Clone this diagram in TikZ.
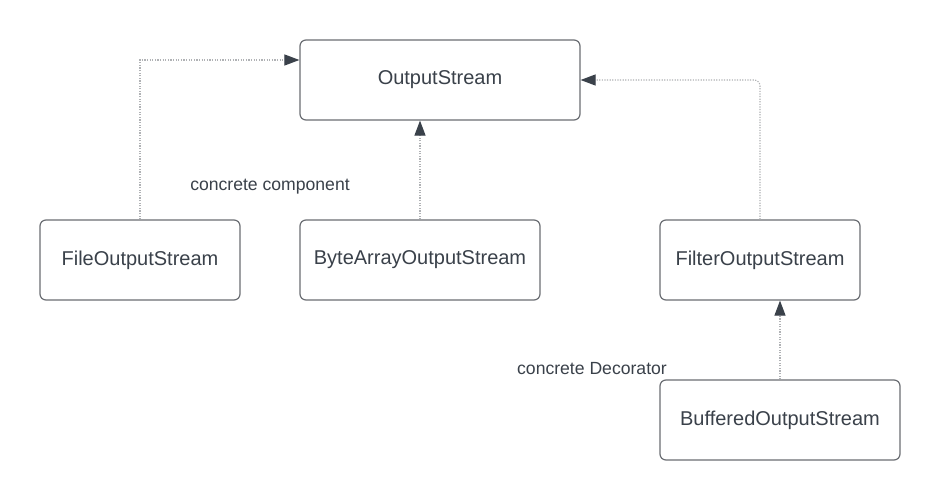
\documentclass[tikz,border=0pt]{standalone}
\usepackage{fontspec}
\setmainfont{Liberation Sans}
\usetikzlibrary{arrows.meta}
\definecolor{inkdark}{HTML}{3A414A}
\definecolor{boxline}{HTML}{6B6E73}
\definecolor{dotline}{HTML}{B0B2B5}
\tikzset{>={Triangle[width=11pt,length=15pt,color=inkdark]}}

\begin{document}
\begin{tikzpicture}[x=1pt, y=-1pt,
  box/.style={draw=boxline, line width=1.2pt, rounded corners=6pt,
    minimum height=80pt, text=inkdark, font=\fontsize{20}{24}\selectfont},
  link/.style={->, draw=dotline, line width=1.1pt, dash pattern=on 1.2pt off 1.4pt},
  note/.style={text=inkdark, font=\fontsize{17.6}{21}\selectfont}]

  \useasboundingbox[fill=white] (0,0) rectangle (940,500);

  % classes
  \node[box, minimum width=280pt] (out) at (440,80) {OutputStream};
  \node[box, minimum width=200pt] (file) at (140,260) {FileOutputStream};
  \node[box, minimum width=240pt] (bytes) at (420,260) {ByteArrayOutputStream};
  \node[box, minimum width=200pt] (filter) at (760,260) {FilterOutputStream};
  \node[box, minimum width=240pt] (buf) at (780,420) {BufferedOutputStream};

  % labels
  \node[note] (lblcomp) at (270,187) {concrete component};
  \node[note] (lbldeco) at (592,369) {concrete Decorator};

  % inheritance
  \draw[link] (file.north) |- ([yshift=20pt]out.west); % File -> Output
  \draw[link] (bytes.north) -- (bytes.north |- out.south); % Bytes -> Output
  \draw[link, rounded corners=6pt] (filter.north) |- (out.east); % Filter -> Output
  \draw[link] (buf.north) -- (buf.north |- filter.south); % Buffered -> Filter

\end{tikzpicture}
\end{document}
